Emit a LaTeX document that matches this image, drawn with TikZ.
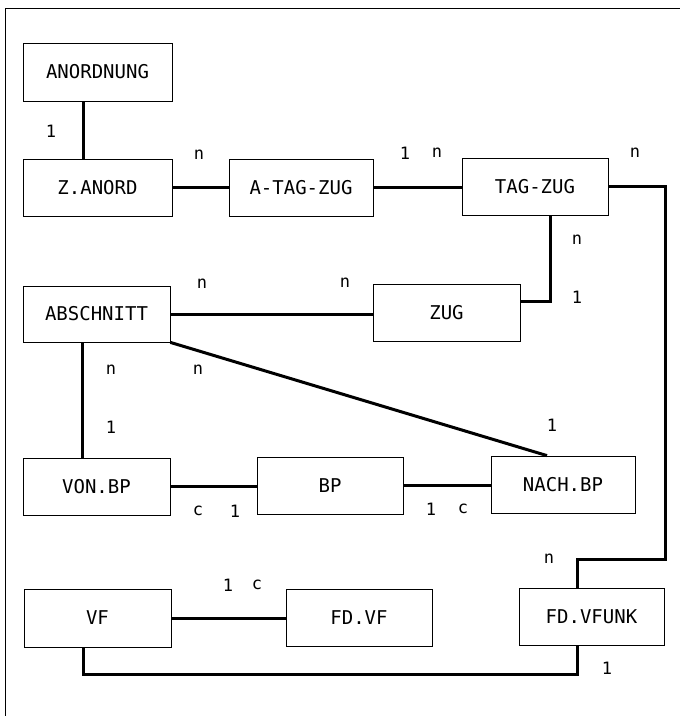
\documentclass[tikz,border=0pt]{standalone}
\usepackage{fontspec}
\newfontfamily\boxfont{DejaVu Sans Mono}
\begin{document}
\begin{tikzpicture}[x=1pt,y=-1pt,
  ent/.style={draw, line width=0.8pt, inner sep=0pt, minimum height=57pt, font=\boxfont\fontsize{19}{20}\selectfont},
  rel/.style={line width=3pt},
  card/.style={inner sep=0pt, font=\boxfont\fontsize{17}{18}\selectfont},
  frame/.style={line width=0.8pt}]
\useasboundingbox (0,0) rectangle (680,716);
\coordinate (f0) at (5,716);
\coordinate (f1) at (5,8);
\coordinate (f2) at (680,8);
\draw[frame] (f0) -- (f1) -- (f2);
% entities
\node[ent, minimum width=149pt, minimum height=58pt] (anord) at (97.5,72) {ANORDNUNG};
\node[ent, minimum width=149pt] (zanord) at (97.5,187.5) {Z.ANORD};
\node[ent, minimum width=144pt] (atag) at (301,187.5) {A-TAG-ZUG};
\node[ent, minimum width=146pt] (tagzug) at (535,186.5) {TAG-ZUG};
\node[ent, minimum width=147pt, minimum height=56pt] (abs) at (96.5,314) {ABSCHNITT};
\node[ent, minimum width=147pt] (zug) at (446.5,312.5) {ZUG};
\node[ent, minimum width=147pt] (vonbp) at (96.5,486.5) {VON.BP};
\node[ent, minimum width=146pt] (bp) at (330,485.5) {BP};
\node[ent, minimum width=144pt] (nachbp) at (563,484.5) {NACH.BP};
\node[ent, minimum width=147pt, minimum height=58pt] (vf) at (97.5,618) {VF};
\node[ent, minimum width=146pt] (fdvf) at (359,617.5) {FD.VF};
\node[ent, minimum width=145pt] (fdvfunk) at (591.5,616.5) {FD.VFUNK};
% bend points
\coordinate (r1) at (665,559);
\coordinate (b1) at (83,674);
% connectors
\draw[rel] ([xshift=-14.5pt]anord.south) -- ([xshift=-14.5pt]zanord.north);
\draw[rel] (zanord.east) -- (zanord.east -| atag.west);
\draw[rel] (atag.east) -- (atag.east -| tagzug.west);
\draw[rel] (tagzug.east) -| (r1) -| ([xshift=-14.5pt]fdvfunk.north);
\draw[rel] ([xshift=-14.5pt]fdvfunk.south) |- (b1) -- ([xshift=-14.5pt]vf.south);
\draw[rel] (vf.east) -- (vf.east -| fdvf.west);
\draw[rel] ([yshift=11.5pt]zug.east) -| ([xshift=15pt]tagzug.south);
\draw[rel] (abs.east) -- (abs.east -| zug.west);
\draw[rel] (abs.south east) -- ([xshift=-16pt]nachbp.north);
\draw[rel] ([xshift=-14.5pt]abs.south) -- ([xshift=-14.5pt]vonbp.north);
\draw[rel] (vonbp.east) -- (vonbp.east -| bp.west);
\draw[rel] (bp.east) -- (bp.east -| nachbp.west);
% cardinalities
\node[card] (l1) at (51,131) {1};
\node[card] (l2) at (199,155) {n};
\node[card] (l3) at (405,153) {1};
\node[card] (l4) at (437,153) {n};
\node[card] (l5) at (635,153) {n};
\node[card] (l6) at (577,240) {n};
\node[card] (l7) at (577,297) {1};
\node[card] (l8) at (202,284) {n};
\node[card] (l9) at (345,283) {n};
\node[card] (l10) at (111,370) {n};
\node[card] (l11) at (198,370) {n};
\node[card] (l12) at (111,427) {1};
\node[card] (l13) at (552,425) {1};
\node[card] (l14) at (198,511) {c};
\node[card] (l15) at (235,511) {1};
\node[card] (l16) at (431,509) {1};
\node[card] (l17) at (463,509) {c};
\node[card] (l18) at (228,585) {1};
\node[card] (l19) at (257,585) {c};
\node[card] (l20) at (549,559) {n};
\node[card] (l21) at (607,668) {1};
\end{tikzpicture}
\end{document}
